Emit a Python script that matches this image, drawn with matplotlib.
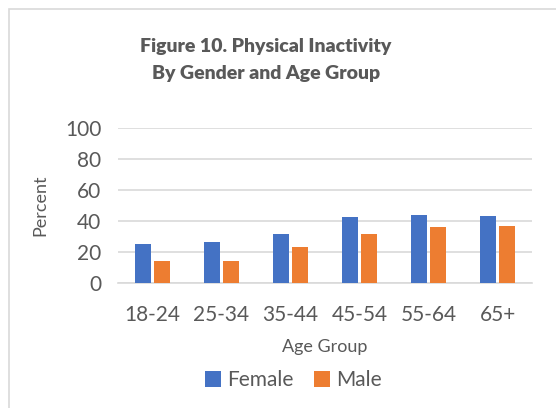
import numpy as np
import matplotlib.pyplot as plt
from matplotlib.patches import Rectangle

plt.rcParams['font.family'] = ['Lato', 'DejaVu Sans']

# Physical inactivity by age group (percent)
age_groups = ['18-24', '25-34', '35-44', '45-54', '55-64', '65+']
female = [25.3, 26.3, 31.5, 42.5, 43.8, 43.4]
male = [14.5, 14.5, 23.5, 32.0, 36.3, 36.9]

BLUE = '#4472C4'
ORANGE = '#ED7D31'
TEXT = '#595959'

fig = plt.figure(figsize=(5.56, 4.08), dpi=100)
ax = fig.add_axes([0.212, 0.306, 0.745, 0.38])

# light frame round the chart area
fig.patches.append(Rectangle((9 / 556, -0.1), 1.1, 1 - 9 / 408 + 0.1,
                             transform=fig.transFigure, fill=False,
                             edgecolor='#d9d9d9', linewidth=1.2))

x = np.arange(len(age_groups))
w = 0.23
ax.bar(x - 0.14, female, w, color=BLUE, label='Female', zorder=3)
ax.bar(x + 0.14, male, w, color=ORANGE, label='Male', zorder=3)

ax.set_xlim(-0.5, len(age_groups) - 0.5)
ax.set_ylim(0, 100)
ax.set_yticks(range(0, 101, 20))
ax.set_xticks(x)
ax.set_xticklabels(age_groups)
ax.yaxis.grid(True, color='#d9d9d9', linewidth=1.2, zorder=0)
ax.tick_params(axis='both', length=0, labelsize=15, colors=TEXT)
ax.tick_params(axis='x', pad=16)
ax.tick_params(axis='y', pad=12)
for s in ['top', 'right', 'left']:
    ax.spines[s].set_visible(False)
ax.spines['bottom'].set_color('#d9d9d9')
ax.spines['bottom'].set_linewidth(1.2)

ax.set_ylabel('Percent', fontsize=13, color=TEXT, labelpad=12)
ax.set_xlabel('Age Group', fontsize=13, color=TEXT, labelpad=10)

fig.text(0.478, 0.852, 'Figure 10. Physical Inactivity\nBy Gender and Age Group',
         ha='center', va='center', fontsize=14, fontweight='heavy',
         color=TEXT, linespacing=1.7)

fig.legend(loc='center', bbox_to_anchor=(0.528, 0.068), ncol=2, frameon=False,
           fontsize=15, handlelength=0.75, handleheight=0.75, handletextpad=0.3,
           columnspacing=1.0, labelcolor=TEXT)

fig.savefig('out.png', dpi=100)
